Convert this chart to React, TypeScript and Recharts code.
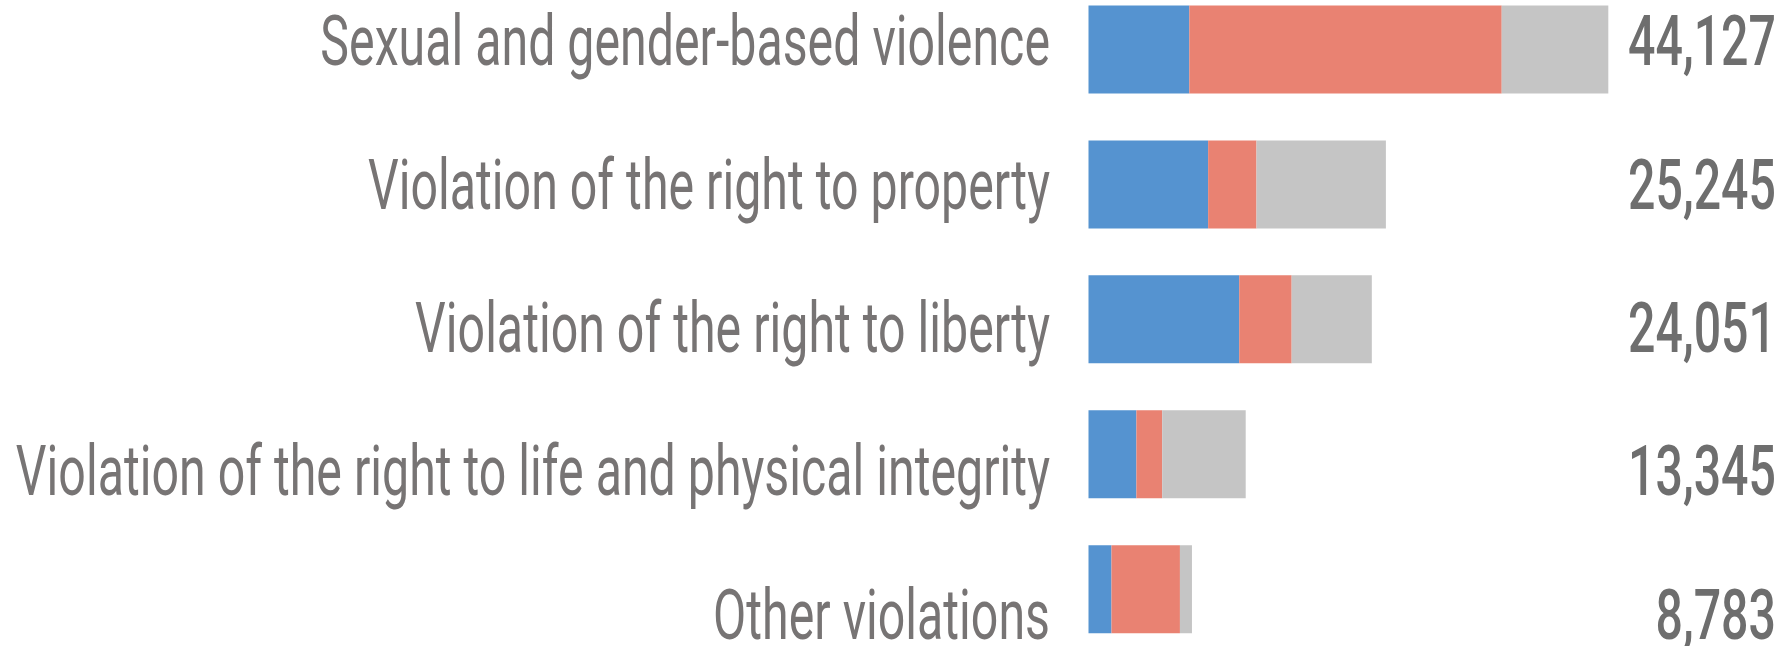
import React from 'react';
import { BarChart, Bar, XAxis, YAxis } from 'recharts';

const categories = [
  'Sexual and gender-based violence',
  'Violation of the right to property',
  'Violation of the right to liberty',
  'Violation of the right to life and physical integrity',
  'Other violations',
];
const blueValues = [8557, 10155, 12794, 4066, 1951];
const redValues = [26520, 4106, 4451, 2193, 5811];
const grayValues = [9050, 10984, 6806, 7086, 1021];
const totalLabels = ['44,127', '25,245', '24,051', '13,345', '8,783'];

const data = categories.map((name, i) => ({
  name,
  total: totalLabels[i],
  blue: blueValues[i],
  red: redValues[i],
  gray: grayValues[i],
}));

const SX = 0.69;

const NameTick = (props: any) => {
  const { x, y, payload } = props;
  return (
    <g transform={`translate(${x},${y}) scale(${SX},1)`}>
      <text x={0} y={0} dy={24} textAnchor="end" fill="#777474" fontFamily="Roboto" fontWeight={400} fontSize={70}>
        {payload.value}
      </text>
    </g>
  );
};

const TotalTick = (props: any) => {
  const { x, y, payload } = props;
  return (
    <g transform={`translate(${x},${y}) scale(0.68,1)`}>
      <text x={0} y={0} dy={24} textAnchor="end" fill="#6e6e6e" fontFamily="Roboto" fontWeight={500} fontSize={71}>
        {payload.value}
      </text>
    </g>
  );
};

export default function App() {
  return (
    <div style={{ position: 'absolute', left: 0, top: 0, width: 1791, height: 646, background: '#fff' }}>
      <BarChart
        width={1791}
        height={646}
        data={data}
        layout="vertical"
        margin={{ top: 0, right: 0, bottom: 0, left: 0 }}
      >
        <XAxis type="number" domain={[0, 45000]} hide />
        <YAxis yAxisId="bars" type="category" dataKey="name" hide width={0} padding={{ top: -17.45, bottom: -11.05 }} />
        <YAxis
          yAxisId="names"
          type="category"
          dataKey="name"
          width={1088.5}
          axisLine={false}
          tickLine={false}
          tickSize={0}
          tickMargin={38.5}
          interval={0}
          tick={<NameTick />}
          padding={{ top: -30.2, bottom: -40.3 }}
        />
        <YAxis
          yAxisId="totals"
          type="category"
          dataKey="total"
          orientation="right"
          width={172.4}
          axisLine={false}
          tickLine={false}
          tickSize={0}
          tickMargin={157.4}
          interval={0}
          tick={<TotalTick />}
          padding={{ top: -30.2, bottom: -40.3 }}
        />
        <Bar yAxisId="bars" dataKey="blue" stackId="a" fill="#5593d0" barSize={88} isAnimationActive={false} />
        <Bar yAxisId="bars" dataKey="red" stackId="a" fill="#e98272" barSize={88} isAnimationActive={false} />
        <Bar yAxisId="bars" dataKey="gray" stackId="a" fill="#c5c5c5" barSize={88} isAnimationActive={false} />
      </BarChart>
    </div>
  );
}
